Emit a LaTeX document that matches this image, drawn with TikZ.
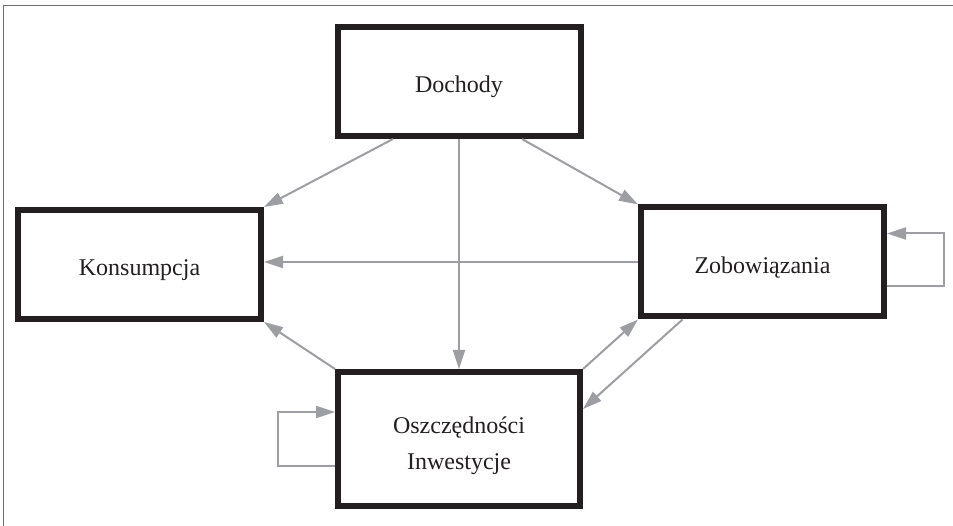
\documentclass[tikz,border=0pt]{standalone}
\usepackage{fontspec}
\setmainfont{Liberation Serif}
\usetikzlibrary{arrows.meta,calc}
\definecolor{ink}{HTML}{231F20}
\definecolor{flow}{HTML}{9C9EA1}
\definecolor{framec}{HTML}{6D6E70}
\tikzset{
  block/.style={draw=ink, line width=6pt, fill=white, minimum width=243pt,
    minimum height=109pt, align=center, text=ink, inner sep=2pt,
    text height=23pt, text depth=0pt,
    font=\fontsize{24}{36}\selectfont},
  arr/.style={draw=flow, line width=2pt,
    -{Triangle[length=19pt,width=12pt]}},
}
\begin{document}
\begin{tikzpicture}[x=1pt,y=-1pt]
\useasboundingbox (0,0) rectangle (953,526);
% outer frame (top and left edges)
\draw[framec, line width=1.2pt] (3.5,526) -- (3.5,5.7) -- (953,5.7);

% blocks
\node[block] (d) at (459,81.5) {Dochody};
\node[block] (k) at (139.5,264.5) {Konsumpcja};
\node[block] (z) at (762.5,262) {Zobowiązania};
\node[block, minimum width=242pt, minimum height=134pt, text height=60pt]
  (o) at (459,439) {Oszczędności\\Inwestycje};

% flows
\draw[arr] ([xshift=-66pt]d.south) -- (k.north east);
\draw[arr] (d.south) -- (o.north);
\draw[arr] ([xshift=63pt]d.south) -- (z.north west);
\draw[arr] (z.west) -- (k.east |- z.west);
\draw[arr] (o.north west) -- (k.south east);
\draw[arr] (o.north east) -- (z.south west);
\draw[arr] ([xshift=-80pt]z.south) -- ([yshift=30pt]o.east);

% self-loops
\draw[arr] ([yshift=-24.5pt]z.east) -- ++(57,0) |- ([yshift=28.5pt]z.east);
\draw[arr] ([yshift=-27pt]o.west) -- ++(-57,0) |- ([yshift=27pt]o.west);
\end{tikzpicture}
\end{document}
